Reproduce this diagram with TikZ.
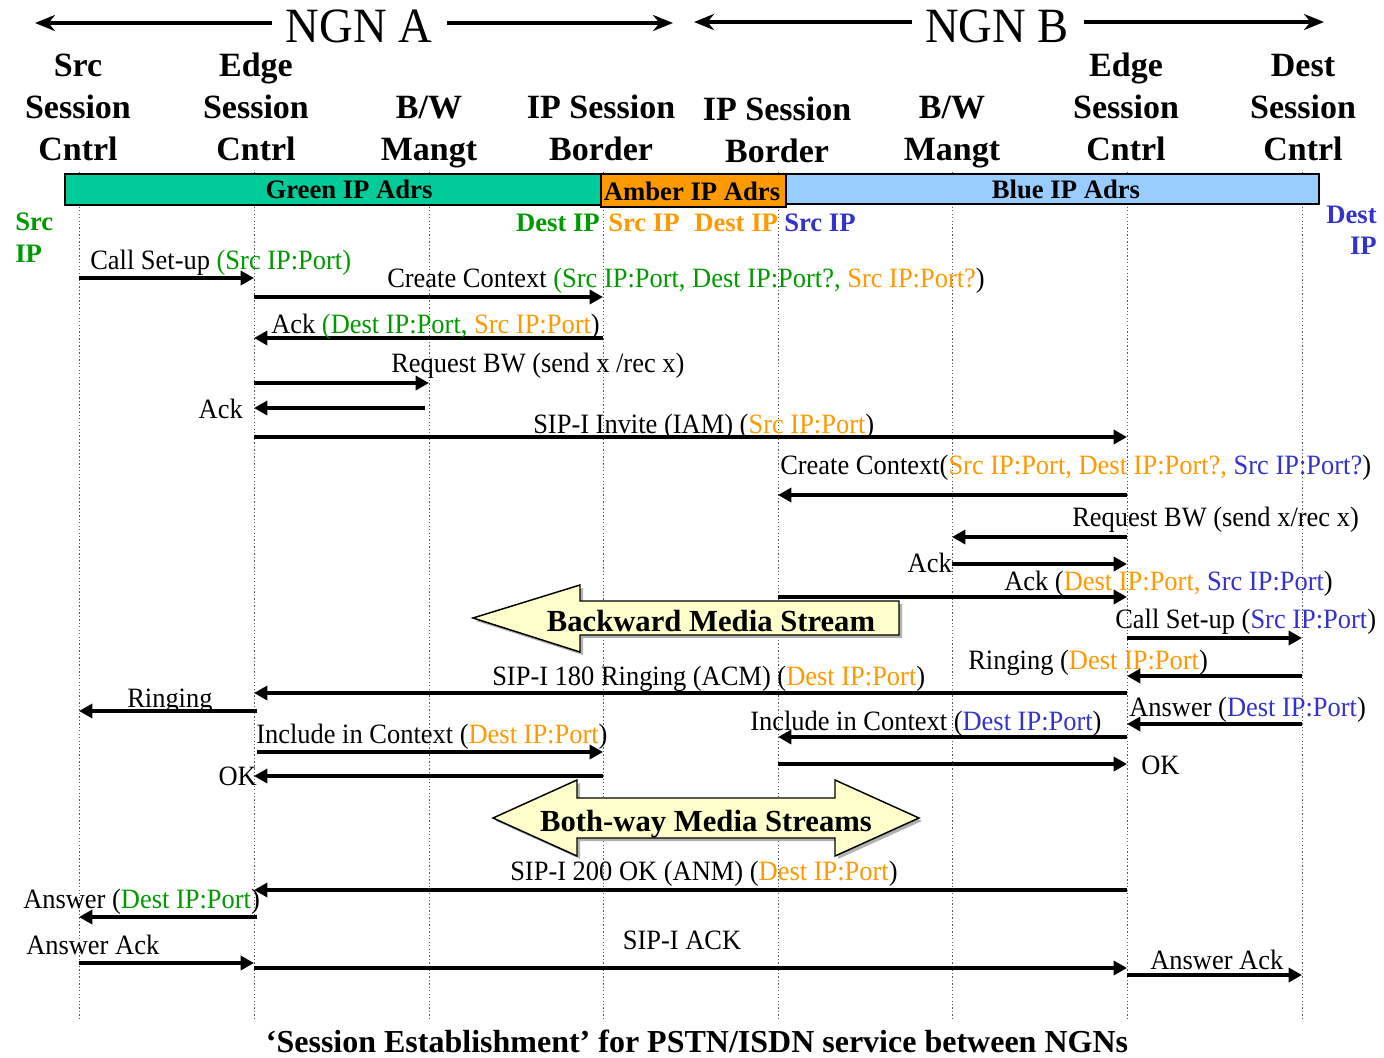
\documentclass[tikz,border=0pt]{standalone}
\usepackage{fontspec}
\setmainfont{Liberation Serif}
\newfontfamily\msgf[FakeStretch=0.945]{Liberation Serif}
\usetikzlibrary{arrows.meta}

\definecolor{grn}{RGB}{0,153,0}
\definecolor{org}{RGB}{255,153,0}
\definecolor{blu}{RGB}{51,51,204}
\definecolor{barG}{RGB}{0,204,153}
\definecolor{barA}{RGB}{255,153,0}
\definecolor{barB}{RGB}{153,204,255}
\definecolor{pale}{RGB}{255,255,204}

\tikzset{
  msg/.style={line width=3pt,-{Triangle[length=10pt,width=10.5pt]}},
  lbl/.style={inner sep=0pt,font=\msgf\fontsize{21pt}{24pt}\selectfont},
  hdr/.style={inner sep=0pt,anchor=base,font=\bfseries\fontsize{25.5pt}{30pt}\selectfont},
  ngn/.style={inner sep=0pt,anchor=base,font=\msgf\fontsize{37pt}{40pt}\selectfont},
  span/.style={line width=3.6pt,-{Stealth[length=15pt,width=12pt]}},
  bar/.style={draw=black,line width=1.2pt},
  barlbl/.style={inner sep=0pt,anchor=base,font=\bfseries\fontsize{20pt}{24pt}\selectfont},
  iplbl/.style={inner sep=0pt,font=\bfseries\fontsize{20pt}{24pt}\selectfont},
  life/.style={line width=0.6pt,gray!70!black,dash pattern=on 1pt off 1.6pt},
  blk/.style={draw=black,line width=1.1pt,fill=pale,line join=miter},
  blkshadow/.style={fill=gray!60,draw=none},
  blklbl/.style={inner sep=0pt,anchor=base,font=\bfseries\fontsize{23pt}{26pt}\selectfont},
}

\begin{document}
\begin{tikzpicture}[x=0.75pt,y=-0.75pt]
\useasboundingbox (0,0) rectangle (1384,1057);

% lifelines
\foreach \n/\x in {L1/79,L2/254,L3/429,L4/603,L5/778,L6/952,L7/1127,L8/1302}{
  \coordinate (\n) at (\x,172);
  \coordinate (\n b) at (\x,1020);
  \draw[life] (\n) -- (\n b);
}

% network spans
\coordinate (na1) at (272,23); \coordinate (na0) at (35,23);
\coordinate (na2) at (447,23); \coordinate (na3) at (673,23);
\coordinate (nb1) at (912,22); \coordinate (nb0) at (694,22);
\coordinate (nb2) at (1084,22); \coordinate (nb3) at (1324,22);
\draw[span] (na1) -- (na0);
\draw[span] (na2) -- (na3);
\draw[span] (nb1) -- (nb0);
\draw[span] (nb2) -- (nb3);
\node[ngn] (ngnA) at (359,42) {NGN A};
\node[ngn] (ngnB) at (997,42) {NGN B};

% entity headers
\node[hdr] (h1a) at (78,76) {Src};
\node[hdr] (h1b) at (78,118) {Session};
\node[hdr] (h1c) at (78,160) {Cntrl};
\node[hdr] (h2a) at (256,76) {Edge};
\node[hdr] (h2b) at (256,118) {Session};
\node[hdr] (h2c) at (256,160) {Cntrl};
\node[hdr] (h3a) at (429,118) {B/W};
\node[hdr] (h3b) at (429,160) {Mangt};
\node[hdr] (h4a) at (601,118) {IP Session};
\node[hdr] (h4b) at (601,160) {Border};
\node[hdr] (h5a) at (777,120) {IP Session};
\node[hdr] (h5b) at (777,162) {Border};
\node[hdr] (h6a) at (952,118) {B/W};
\node[hdr] (h6b) at (952,160) {Mangt};
\node[hdr] (h7a) at (1126,76) {Edge};
\node[hdr] (h7b) at (1126,118) {Session};
\node[hdr] (h7c) at (1126,160) {Cntrl};
\node[hdr] (h8a) at (1303,76) {Dest};
\node[hdr] (h8b) at (1303,118) {Session};
\node[hdr] (h8c) at (1303,160) {Cntrl};

% address domains
\draw[bar,fill=barG] (65,174) rectangle (601,205);
\draw[bar,fill=barA] (601,174) rectangle (786,207);
\draw[bar,fill=barB] (786,174) rectangle (1319,204);
\node[barlbl] (bg) at (349,198) {Green IP Adrs};
\node[barlbl] (ba) at (692,200) {Amber IP Adrs};
\node[barlbl] (bb) at (1066,198) {Blue IP Adrs};

% address labels
\node[iplbl,anchor=base west,text=grn] (ip1a) at (15,230) {Src};
\node[iplbl,anchor=base west,text=grn] (ip1b) at (15,262) {IP};
\node[iplbl,anchor=base east,text=grn] (ip2) at (600,231) {Dest IP};
\node[iplbl,anchor=base west,text=org] (ip3) at (608,231) {Src IP};
\node[iplbl,anchor=base west,text=org] (ip4) at (694,231) {Dest IP};
\node[iplbl,anchor=base west,text=blu] (ip5) at (784,231) {Src IP};
\node[iplbl,anchor=base east,text=blu] (ip6a) at (1377,223) {Dest};
\node[iplbl,anchor=base east,text=blu] (ip6b) at (1377,254) {IP};

% messages
\draw[msg] (L1|-0,278) -- (L2|-0,278);
\node[lbl,anchor=base west] (m1) at (90,269) {Call Set-up \textcolor{grn}{(Src IP:Port)}};

\draw[msg] (L2|-0,297) -- (L4|-0,297);
\node[lbl,anchor=base west] (m2) at (387,287) {Create Context \textcolor{grn}{(Src IP:Port, Dest IP:Port?,} \textcolor{org}{Src IP:Port?})};

\draw[msg] (L4|-0,338) -- (L2|-0,338);
\node[lbl,anchor=base west] (m3) at (271,333) {Ack \textcolor{grn}{(Dest IP:Port,} \textcolor{org}{Src IP:Port})};

\draw[msg] (L2|-0,383) -- (L3|-0,383);
\node[lbl,anchor=base west] (m4) at (391,372) {Request BW (send x /rec x)};

\draw[msg] (425,408) -- (L2|-0,408);
\node[lbl,anchor=base east] (m5) at (243,418) {Ack};

\draw[msg] (L2|-0,437) -- (L7|-0,437);
\node[lbl,anchor=base west] (m6) at (533,433) {SIP-I Invite (IAM) (\textcolor{org}{Src IP:Port})};

\draw[msg] (L7|-0,495) -- (L5|-0,495);
\node[lbl,anchor=base west] (m7) at (780,474) {Create Context(\textcolor{org}{Src IP:Port, Dest IP:Port?,} \textcolor{blu}{Src IP:Port?})};

\draw[msg] (L7|-0,537) -- (L6|-0,537);
\node[lbl,anchor=base west] (m8) at (1072,526) {Request BW (send x/rec x)};

\draw[msg] (L6|-0,564) -- (L7|-0,564);
\node[lbl,anchor=base east] (m9) at (952,572) {Ack};

\draw[msg] (L5|-0,597) -- (L7|-0,597);
\node[lbl,anchor=base west] (m10) at (1004,590) {Ack (\textcolor{org}{Dest IP:Port,} \textcolor{blu}{Src IP:Port})};

% backward media stream
\fill[blkshadow] (476,621) -- (583,588) -- (583,604) -- (902,604) -- (902,638) -- (583,638) -- (583,655) -- cycle;
\draw[blk] (473,618) -- (580,585) -- (580,601) -- (899,601) -- (899,635) -- (580,635) -- (580,652) -- cycle;
\node[blklbl] (bms) at (711,631) {Backward Media Stream};

\draw[msg] (L7|-0,638) -- (L8|-0,638);
\node[lbl,anchor=base west] (m12) at (1115,628) {Call Set-up (\textcolor{blu}{Src IP:Port})};

\draw[msg] (L8|-0,676) -- (L7|-0,676);
\node[lbl,anchor=base west] (m13) at (968,669) {Ringing (\textcolor{org}{Dest IP:Port})};

\draw[msg] (L7|-0,693) -- (L2|-0,693);
\node[lbl,anchor=base west] (m14) at (492,685) {SIP-I 180 Ringing (ACM) (\textcolor{org}{Dest IP:Port})};

\draw[msg] (257,711) -- (L1|-0,711);
\node[lbl,anchor=base west] (m15) at (127,707) {Ringing};

\draw[msg] (L8|-0,724) -- (L7|-0,724);
\node[lbl,anchor=base west] (m16) at (1129,716) {Answer (\textcolor{blu}{Dest IP:Port})};

\draw[msg] (L7|-0,737) -- (L5|-0,737);
\node[lbl,anchor=base west] (m17) at (750,730) {Include in Context (\textcolor{blu}{Dest IP:Port})};

\draw[msg] (257,752) -- (L4|-0,752);
\node[lbl,anchor=base west] (m18) at (256,743) {Include in Context (\textcolor{org}{Dest IP:Port})};

\draw[msg] (L4|-0,776) -- (L2|-0,776);
\node[lbl,anchor=base east] (m19) at (257,785) {OK};

\draw[msg] (L5|-0,764) -- (L7|-0,764);
\node[lbl,anchor=base west] (m20) at (1141,774) {OK};

% both-way media streams
\fill[blkshadow] (496,821) -- (580,783) -- (580,801) -- (838,801) -- (838,783) -- (922,821) -- (838,859) -- (838,841) -- (580,841) -- (580,859) -- cycle;
\draw[blk] (493,818) -- (577,780) -- (577,798) -- (835,798) -- (835,780) -- (919,818) -- (835,856) -- (835,838) -- (577,838) -- (577,856) -- cycle;
\node[blklbl] (bws) at (706,831) {Both-way Media Streams};

\draw[msg] (L7|-0,890) -- (L2|-0,890);
\node[lbl,anchor=base west] (m22) at (510,880) {SIP-I 200 OK (ANM) (\textcolor{org}{Dest IP:Port})};

\draw[msg] (257,917) -- (L1|-0,917);
\node[lbl,anchor=base west] (m23) at (23,908) {Answer (\textcolor{grn}{Dest IP:Port})};

\draw[msg] (L1|-0,963) -- (L2|-0,963);
\node[lbl,anchor=base west] (m24) at (26,954) {Answer Ack};

\draw[msg] (L2|-0,968) -- (L7|-0,968);
\node[lbl,anchor=base] (m25) at (682,949) {SIP-I ACK};

\draw[msg] (L7|-0,975) -- (L8|-0,975);
\node[lbl,anchor=base west] (m26) at (1150,969) {Answer Ack};

% caption
\node[inner sep=0pt,anchor=base,font=\bfseries\fontsize{24pt}{28pt}\selectfont] (cap) at (697,1052) {‘Session Establishment’ for PSTN/ISDN service between NGNs};
\end{tikzpicture}
\end{document}
